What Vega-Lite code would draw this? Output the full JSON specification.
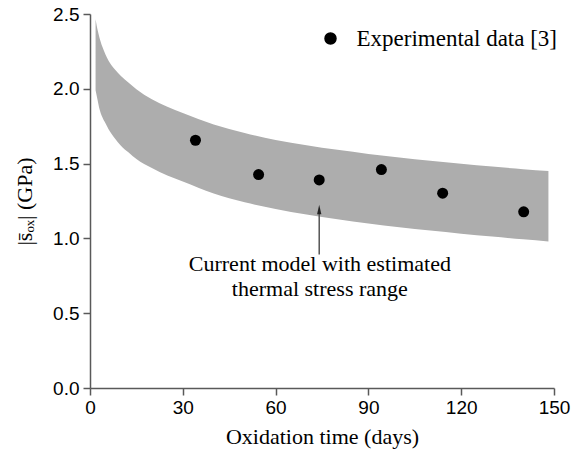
{
  "$schema": "https://vega.github.io/schema/vega-lite/v6.json",
  "width": 464,
  "height": 374,
  "autosize": "none",
  "padding": {"left": 90, "top": 14, "right": 20, "bottom": 73},
  "background": "white",
  "config": {
    "view": {"stroke": null},
    "axis": {
      "grid": false,
      "labelFlush": false,
      "domainColor": "#595959",
      "domainWidth": 1.5,
      "tickColor": "#595959",
      "tickWidth": 1.5,
      "tickSize": 7,
      "labelColor": "black",
      "labelFont": "Liberation Sans",
      "labelFontSize": 19,
      "titleFont": "Liberation Serif",
      "titleFontSize": 22,
      "titleFontWeight": "normal",
      "titleColor": "black"
    }
  },
  "datasets": {
    "band": [
      {"t": 1.8, "lo": 1.99, "hi": 2.465},
      {"t": 2.5, "lo": 1.92, "hi": 2.389},
      {"t": 3, "lo": 1.87, "hi": 2.347},
      {"t": 4, "lo": 1.81, "hi": 2.281},
      {"t": 5, "lo": 1.77, "hi": 2.23},
      {"t": 6, "lo": 1.73, "hi": 2.188},
      {"t": 8, "lo": 1.67, "hi": 2.13},
      {"t": 10, "lo": 1.62, "hi": 2.085},
      {"t": 12.5, "lo": 1.574, "hi": 2.04},
      {"t": 15, "lo": 1.53, "hi": 1.997},
      {"t": 20, "lo": 1.47, "hi": 1.93},
      {"t": 25, "lo": 1.42, "hi": 1.88},
      {"t": 30, "lo": 1.38, "hi": 1.838},
      {"t": 40, "lo": 1.3, "hi": 1.762},
      {"t": 50, "lo": 1.241, "hi": 1.705},
      {"t": 60, "lo": 1.197, "hi": 1.658},
      {"t": 70, "lo": 1.16, "hi": 1.623},
      {"t": 80, "lo": 1.128, "hi": 1.592},
      {"t": 90, "lo": 1.1, "hi": 1.565},
      {"t": 100, "lo": 1.075, "hi": 1.541},
      {"t": 110, "lo": 1.052, "hi": 1.519},
      {"t": 120, "lo": 1.031, "hi": 1.499},
      {"t": 130, "lo": 1.012, "hi": 1.48},
      {"t": 140, "lo": 0.994, "hi": 1.463},
      {"t": 148.2, "lo": 0.98, "hi": 1.45}
    ],
    "exp": [
      {"t": 34.1, "s": 1.656},
      {"t": 54.5, "s": 1.427},
      {"t": 74.1, "s": 1.391},
      {"t": 94.2, "s": 1.46},
      {"t": 114, "s": 1.302},
      {"t": 140.2, "s": 1.178}
    ]
  },
  "layer": [
    {
      "data": {"name": "band"},
      "mark": {"type": "area", "color": "#adadad", "interpolate": "monotone", "opacity": 1},
      "encoding": {
        "x": {
          "field": "t", "type": "quantitative",
          "scale": {"domain": [0, 150], "nice": false},
          "axis": {"values": [0, 30, 60, 90, 120, 150], "labelPadding": 3, "titlePadding": 9, "title": "Oxidation time (days)"}
        },
        "y": {
          "field": "lo", "type": "quantitative",
          "scale": {"domain": [0, 2.5], "nice": false},
          "axis": {"values": [0, 0.5, 1, 1.5, 2, 2.5], "format": ".1f", "labelPadding": 4, "titlePadding": 16, "title": "|s̄ₒₓ| (GPa)"}
        },
        "y2": {"field": "hi"}
      }
    },
    {
      "data": {"values": [{}]},
      "mark": {"type": "rule", "color": "#555555", "strokeWidth": 1.5},
      "encoding": {
        "x": {"datum": 74.1, "type": "quantitative"},
        "y": {"datum": 0.892, "type": "quantitative"},
        "y2": {"datum": 1.18}
      }
    },
    {
      "data": {"values": [{}]},
      "mark": {"type": "point", "shape": "M0,-1L-0.45,1L0.45,1Z", "filled": true, "color": "#222222", "size": 90, "opacity": 1},
      "encoding": {
        "x": {"datum": 74.1, "type": "quantitative"},
        "y": {"datum": 1.193, "type": "quantitative"}
      }
    },
    {
      "data": {"values": [{}]},
      "mark": {"type": "text", "font": "Liberation Serif", "fontSize": 22, "align": "center", "baseline": "alphabetic", "lineHeight": 25, "color": "black"},
      "encoding": {
        "x": {"datum": 74.3, "type": "quantitative"},
        "y": {"datum": 0.781, "type": "quantitative"},
        "text": {"value": ["Current model with estimated", "thermal stress range"]}
      }
    },
    {
      "data": {"name": "exp"},
      "mark": {"type": "point", "filled": true, "size": 121, "opacity": 1},
      "encoding": {
        "x": {"field": "t", "type": "quantitative"},
        "y": {"field": "s", "type": "quantitative"},
        "color": {
          "datum": "Experimental data [3]",
          "scale": {"range": ["black"]},
          "legend": {
            "orient": "none", "legendX": 229, "legendY": 13, "title": null, "padding": 0,
            "labelFont": "Liberation Serif", "labelFontSize": 23, "labelColor": "black", "labelLimit": 400,
            "symbolSize": 121, "symbolType": "circle", "symbolFillColor": "black", "symbolStrokeColor": "black", "symbolOpacity": 1,
            "labelOffset": 14.5
          }
        }
      }
    }
  ]
}
